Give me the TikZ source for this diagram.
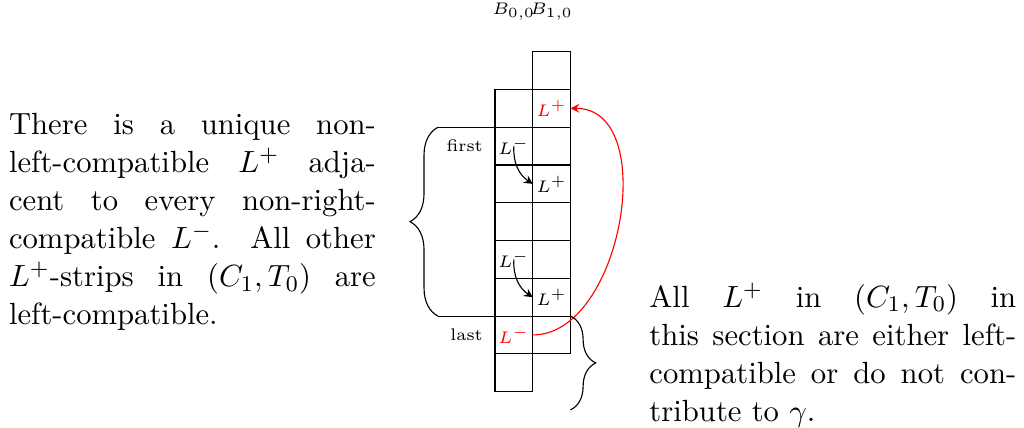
\documentclass[11pt,tikz,border=0pt]{standalone}
\usepackage{tikz}
\usepackage{xcolor}
\usepackage{amsmath}
\usetikzlibrary{arrows,positioning,calc,decorations.pathreplacing}

\begin{document}
\begin{tikzpicture}[
    node distance=0cm,
    cell/.style={rectangle, draw, minimum width=0.474cm, minimum height=0.474cm, inner sep=0pt, outer sep=0pt, font=\tiny},
    tag/.style={font=\tiny},
    para/.style={text width=131pt, align=justify, inner sep=0pt},
    arrow/.style={->, >=stealth},
    curly/.style={decorate, decoration={brace, amplitude=#1}}
]
\useasboundingbox (0,0) rectangle (12.853,-5.360);

% Right column
\node[cell] (r0) at (6.924,-0.886) {};
\node[cell, text=red, below=of r0] (r1) {$L^+$};
\node[cell, below=of r1] (r2) {};
\node[cell, below=of r2] (r3) {$L^+$};
\node[cell, below=of r3] (r4) {};
\node[cell, below=of r4] (r5) {};
\node[cell, below=of r5] (r6) {$L^+$};
\node[cell, below=of r6] (r7) {};

% Left column
\node[cell, left=of r1] (l1) {};
\node[cell, below=of l1] (l2) {$L^-$};
\node[cell, below=of l2] (l3) {};
\node[cell, below=of l3] (l4) {};
\node[cell, below=of l4] (l5) {$L^-$};
\node[cell, below=of l5] (l6) {};
\node[cell, text=red, below=of l6] (l7) {$L^-$};
\node[cell, below=of l7] (l8) {};

% Column titles and row tags
\node[tag, above=0.26cm of r0] (b1) {$B_{1,0}$};
\node[tag] (b0) at (b1 -| l1) {$B_{0,0}$};
\node[tag, left=0.5pt of l2] (first) {first};
\node[tag, left=0.5pt of l7] (last) {last};

% Arrows
\draw[arrow] (l2.center) to[bend right] (r3.west);
\draw[arrow] (l5.center) to[bend right] (r6.west);
\draw[arrow, red] (l7.east) to[out=0, in=0] (r1.east);

% Braces
\coordinate (ltop) at ([xshift=-0.715cm]l2.north west);
\coordinate (lbot) at ([xshift=-0.715cm]l7.north west);
\coordinate (rend) at ([yshift=-0.703cm]r7.south east);
\draw (l2.north west) -- (ltop);
\draw[curly=10pt] (lbot) -- (ltop);
\draw (lbot) -- (r7.north east);
\draw[curly=9pt] (r7.north east) -- (rend);
\coordinate (ltip) at ($(ltop)!0.5!(lbot)+(-10pt,0)$);
\coordinate (rtip) at ($(r7.north east)!0.5!(rend)+(9pt,0)$);

% Notes
\node[para, left=12pt of ltip] (leftnote) {There is a unique non-\linebreak left-compatible $L^+$ adja-\linebreak cent to every non-right-\linebreak compatible $L^-$. All other\linebreak $L^+$-strips in $(C_1, T_0)$ are\linebreak left-compatible.};
\node[para, right=19pt of rtip, yshift=2.8pt] (rightnote) {All $L^+$ in $(C_1, T_0)$ in\linebreak this section are either left-\linebreak compatible or do not con-\linebreak tribute to $\gamma$.};

\end{tikzpicture}
\end{document}
